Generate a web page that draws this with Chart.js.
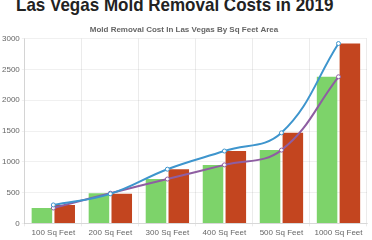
<!DOCTYPE html>
<html>
<head>
<meta charset="utf-8">
<script src="https://cdn.jsdelivr.net/npm/chart.js@4"></script>
<style>
  body { margin: 0; width: 372px; height: 240px; overflow: hidden; background: #fff; position: relative; }
  h1 { position: absolute; left: 16px; top: -3px; margin: 0; line-height: 17px; font: bold 17px/17px "Liberation Sans", Arial, sans-serif; color: #222; white-space: nowrap; transform: scaleY(1.12); transform-origin: 0 100%; }
  #wrap { position: absolute; left: 0; top: 20px; width: 372px; height: 220px; }
</style>
</head>
<body>
<h1>Las Vegas Mold Removal Costs in 2019</h1>
<div id="wrap"><canvas id="chart_cost"></canvas></div>
<script>
var sizeLabels = ['100 Sq Feet', '200 Sq Feet', '300 Sq Feet', '400 Sq Feet', '500 Sq Feet', '1000 Sq Feet'];
var minCost = [250, 490, 720, 950, 1190, 2380];
var maxCost = [300, 480, 880, 1175, 1470, 2920];
var yTicks = [0, 500, 1000, 1500, 2000, 2500, 3000];

Chart.defaults.font.family = '"Liberation Sans", Arial, sans-serif';
Chart.defaults.font.size = 8;
Chart.defaults.color = '#666';

const chart = new Chart('chart_cost', {
    type: 'bar',
    data: {
        labels: sizeLabels,
        datasets: [
            {
                type: 'line',
                label: 'Max',
                data: maxCost,
                borderColor: '#3e95cd',
                backgroundColor: '#fff',
                borderWidth: 2,
                pointRadius: 2,
                pointBorderWidth: 1,
                tension: 0.4,
                fill: false
            },
            {
                type: 'line',
                label: 'Min',
                data: minCost,
                borderColor: '#8e5ea2',
                backgroundColor: '#fff',
                borderWidth: 2,
                pointRadius: 2,
                pointBorderWidth: 1,
                tension: 0.4,
                fill: false
            },
            {
                label: 'Min cost',
                data: minCost,
                backgroundColor: '#7dd36a'
            },
            {
                label: 'Max cost',
                data: maxCost,
                backgroundColor: '#c3451f'
            }
        ]
    },
    options: {
        responsive: true,
        maintainAspectRatio: false,
        animation: false,
        layout: { padding: { left: 0, right: 4, top: 0, bottom: 0 } },
        plugins: {
            legend: { display: false },
            tooltip: { enabled: false },
            title: {
                display: true,
                text: 'Mold Removal Cost In Las Vegas By Sq Feet Area',
                font: { size: 8, weight: 'bold' },
                color: '#666',
                padding: { top: 5, bottom: 4 }
            }
        },
        scales: {
            x: {
                grid: { color: 'rgba(0,0,0,0.08)', tickLength: 3 },
                ticks: { maxRotation: 0, padding: 2 }
            },
            y: {
                min: 0,
                max: 3000,
                afterBuildTicks: function (axis) {
                    axis.ticks = yTicks.map(v => ({ value: v }));
                },
                grid: { color: 'rgba(0,0,0,0.06)', tickLength: 3 },
                ticks: { padding: 2, callback: v => String(v) }
            }
        }
    }
});
</script>
</body>
</html>
